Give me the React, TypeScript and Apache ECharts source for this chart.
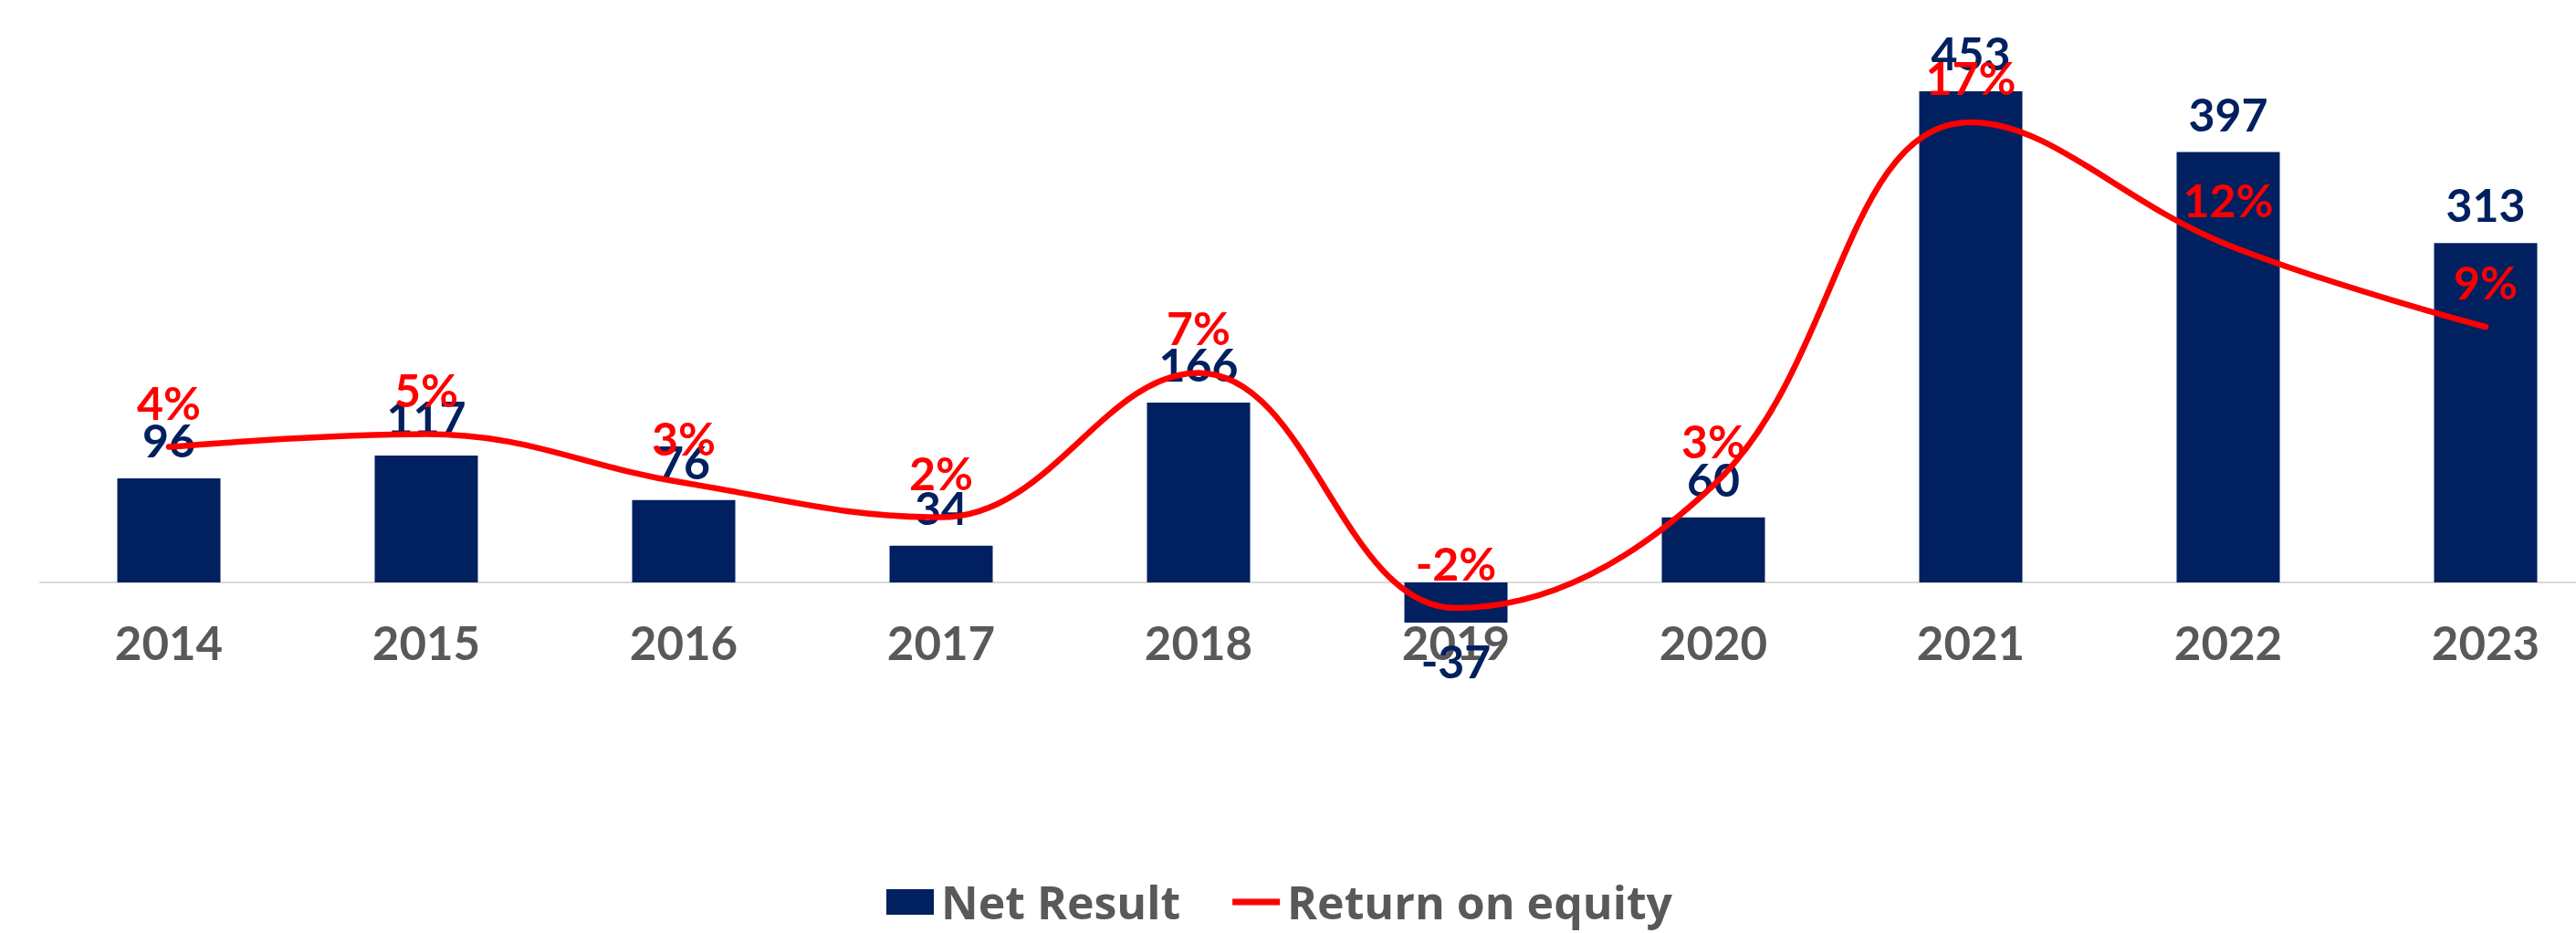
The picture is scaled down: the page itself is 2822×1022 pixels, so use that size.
import React, { useEffect, useRef } from "react";
import * as echarts from "echarts";

const years = ["2014", "2015", "2016", "2017", "2018", "2019", "2020", "2021", "2022", "2023"];
const netResult = [96, 117, 76, 34, 166, -37, 60, 453, 397, 313];
const returnOnEquity = [4.3, 4.8, 2.9, 1.55, 7.2, -2.0, 2.8, 17.0, 12.2, 9.0];

const NAVY = "#002060";
const RED = "#FF0000";
const GRAY = "#595959";
const FONT = "Lato";
const LEGEND_FONT = "Open Sans";

export default function App() {
  const ref = useRef<HTMLDivElement>(null);
  useEffect(() => {
    const chart = echarts.init(ref.current!, null, { renderer: "svg" });
    chart.setOption({
      animation: false,
      backgroundColor: "#ffffff",
      grid: {
        left: 44,
        width: 2820,
        top: 44.2,
        height: 712.6,
        containLabel: false,
        outerBoundsMode: "none",
      },
      xAxis: {
        type: "category",
        data: years,
        axisLine: { lineStyle: { color: "#D9D9D9", width: 2 } },
        axisTick: { show: false },
        axisLabel: {
          color: GRAY,
          fontFamily: FONT,
          fontWeight: "bold",
          fontSize: 51,
          lineHeight: 51,
          margin: -79,
        },
      },
      yAxis: [
        { type: "value", min: -100, max: 500, show: false, splitLine: { show: false } },
        { type: "value", min: -5.243, max: 20.207, show: false, splitLine: { show: false } },
      ],
      legend: {
        left: 966,
        top: 958,
        itemWidth: 52,
        itemHeight: 28,
        itemGap: 57,
        symbolKeepAspect: true,
        textStyle: {
          color: GRAY,
          fontFamily: LEGEND_FONT,
          fontWeight: "bold",
          fontSize: 50,
          lineHeight: 50,
          padding: [0, 0, 0, 3],
        },
        data: [
          { name: "Net Result", icon: "rect" },
          { name: "Return on equity", icon: "path://M0,0L60,0L60,8L0,8Z" },
        ],
      },
      series: [
        {
          name: "Net Result",
          type: "bar",
          data: netResult.map((v) => (v < 0 ? { value: v, label: { position: "bottom" } } : v)),
          barWidth: 113,
          itemStyle: { color: NAVY },
          label: {
            show: true,
            position: "top",
            distance: 17,
            color: NAVY,
            fontFamily: FONT,
            fontWeight: "bold",
            fontSize: 50,
            lineHeight: 50,
          },
        },
        {
          name: "Return on equity",
          type: "line",
          yAxisIndex: 1,
          data: returnOnEquity,
          smooth: 0.4,
          symbol: "circle",
          symbolSize: 2,
          lineStyle: { color: RED, width: 6.5, cap: "round" },
          itemStyle: { color: RED },
          label: {
            show: true,
            position: "top",
            distance: 23,
            color: RED,
            fontFamily: FONT,
            fontWeight: "bold",
            fontSize: 50,
            lineHeight: 50,
            formatter: (p: any) => Math.round(p.value) + "%",
          },
        },
      ],
    });
    return () => chart.dispose();
  }, []);
  return (
    <div
      ref={ref}
      style={{ position: "fixed", left: 0, top: 0, width: 2822, height: 1022 }}
    />
  );
}
